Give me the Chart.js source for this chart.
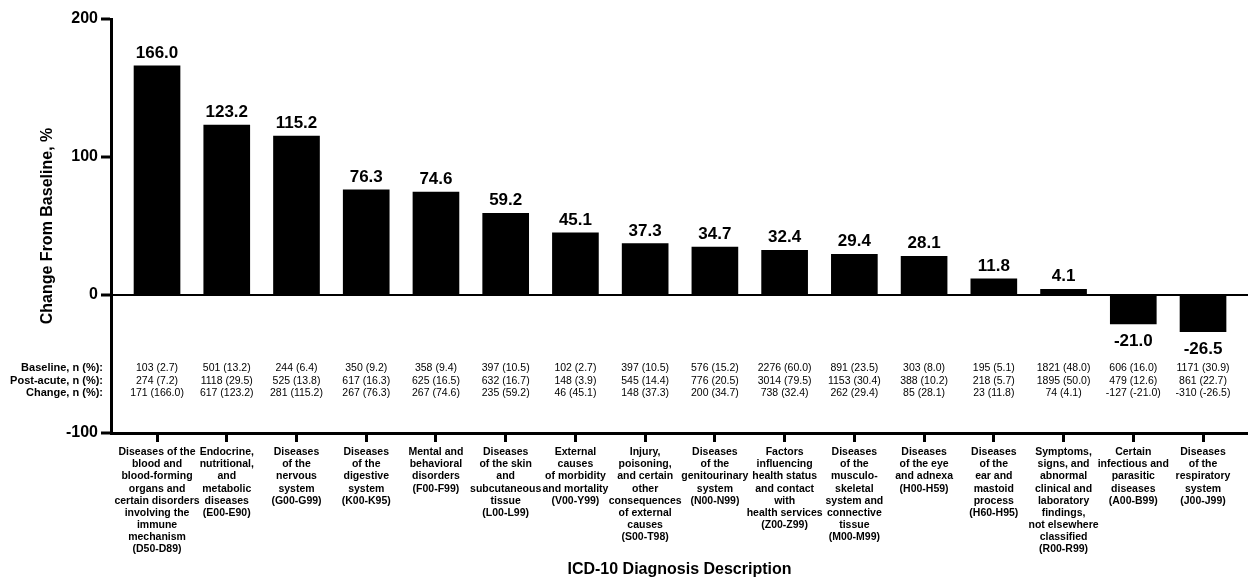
<!DOCTYPE html>
<html lang="en">
<head>
    <meta charset="UTF-8">
    <title>Change From Baseline by ICD-10 Diagnosis</title>
    <script src="https://cdn.jsdelivr.net/npm/chart.js"></script>
    <style>
        body {
            margin: 0;
            background: #fff;
        }
        .chart-container {
            width: 1248px;
            height: 580px;
        }
    </style>
</head>
<body>

    <div class="chart-container">
        <canvas id="icdChart"></canvas>
    </div>

    <script>
        const categories = [
            ["Diseases of the", "blood and", "blood-forming", "organs and", "certain disorders", "involving the", "immune", "mechanism", "(D50-D89)"],
            ["Endocrine,", "nutritional,", "and", "metabolic", "diseases", "(E00-E90)"],
            ["Diseases", "of the", "nervous", "system", "(G00-G99)"],
            ["Diseases", "of the", "digestive", "system", "(K00-K95)"],
            ["Mental and", "behavioral", "disorders", "(F00-F99)"],
            ["Diseases", "of the skin", "and", "subcutaneous", "tissue", "(L00-L99)"],
            ["External", "causes", "of morbidity", "and mortality", "(V00-Y99)"],
            ["Injury,", "poisoning,", "and certain", "other", "consequences", "of external", "causes", "(S00-T98)"],
            ["Diseases", "of the", "genitourinary", "system", "(N00-N99)"],
            ["Factors", "influencing", "health status", "and contact", "with", "health services", "(Z00-Z99)"],
            ["Diseases", "of the", "musculo-", "skeletal", "system and", "connective", "tissue", "(M00-M99)"],
            ["Diseases", "of the eye", "and adnexa", "(H00-H59)"],
            ["Diseases", "of the", "ear and", "mastoid", "process", "(H60-H95)"],
            ["Symptoms,", "signs, and", "abnormal", "clinical and", "laboratory", "findings,", "not elsewhere", "classified", "(R00-R99)"],
            ["Certain", "infectious and", "parasitic", "diseases", "(A00-B99)"],
            ["Diseases", "of the", "respiratory", "system", "(J00-J99)"]
        ];

        const changePct = [166.0, 123.2, 115.2, 76.3, 74.6, 59.2, 45.1, 37.3, 34.7, 32.4, 29.4, 28.1, 11.8, 4.1, -21.0, -26.5];

        const baselineN   = [103, 501, 244, 350, 358, 397, 102, 397, 576, 2276, 891, 303, 195, 1821, 606, 1171];
        const baselinePct = [2.7, 13.2, 6.4, 9.2, 9.4, 10.5, 2.7, 10.5, 15.2, 60.0, 23.5, 8.0, 5.1, 48.0, 16.0, 30.9];
        const postN       = [274, 1118, 525, 617, 625, 632, 148, 545, 776, 3014, 1153, 388, 218, 1895, 479, 861];
        const postPct     = [7.2, 29.5, 13.8, 16.3, 16.5, 16.7, 3.9, 14.4, 20.5, 79.5, 30.4, 10.2, 5.7, 50.0, 12.6, 22.7];
        const changeN     = [171, 617, 281, 267, 267, 235, 46, 148, 200, 738, 262, 85, 23, 74, -127, -310];

        const rowLabels = ["Baseline, n (%):", "Post-acute, n (%):", "Change, n (%):"];
        const yTicks = [-100, 0, 100, 200];

        const FONT = "'Liberation Sans', Arial, Helvetica, sans-serif";

        function fmt(n, p) {
            return n + ' (' + p.toFixed(1) + ')';
        }

        // value labels above / below each bar
        const valueLabels = {
            id: 'valueLabels',
            afterDatasetsDraw(chart) {
                const ctx = chart.ctx;
                const meta = chart.getDatasetMeta(0);
                ctx.save();
                ctx.font = 'bold 17px ' + FONT;
                ctx.fillStyle = '#000';
                ctx.textAlign = 'center';
                ctx.textBaseline = 'alphabetic';
                meta.data.forEach((bar, i) => {
                    const v = changePct[i];
                    const y = v >= 0 ? bar.y - 8 : bar.y + 22;
                    ctx.fillText(v.toFixed(1), bar.x, y);
                });
                ctx.restore();
            }
        };

        // the n (%) table under the zero line
        const countTable = {
            id: 'countTable',
            afterDraw(chart) {
                const ctx = chart.ctx;
                const area = chart.chartArea;
                const meta = chart.getDatasetMeta(0);
                const rowY = [area.bottom - 65, area.bottom - 52, area.bottom - 40];
                const rows = [
                    baselineN.map((n, i) => fmt(n, baselinePct[i])),
                    postN.map((n, i) => fmt(n, postPct[i])),
                    changeN.map((n, i) => fmt(n, changePct[i]))
                ];
                ctx.save();
                ctx.fillStyle = '#000';
                ctx.textBaseline = 'middle';
                ctx.font = 'bold 11px ' + FONT;
                ctx.textAlign = 'right';
                rowLabels.forEach((t, r) => ctx.fillText(t, area.left - 8, rowY[r]));
                ctx.font = '10.5px ' + FONT;
                ctx.textAlign = 'center';
                rows.forEach((row, r) => {
                    row.forEach((t, i) => ctx.fillText(t, meta.data[i].x, rowY[r]));
                });
                ctx.restore();
            }
        };

        const ctx1 = document.getElementById('icdChart').getContext('2d');
        const icdChart = new Chart(ctx1, {
            type: 'bar',
            data: {
                datasets: [
                    {
                        label: 'Change From Baseline, %',
                        data: changePct.map((v, i) => ({ x: i, y: v })),
                        backgroundColor: '#000',
                        borderWidth: 0,
                        barThickness: 46
                    }
                ]
            },
            options: {
                responsive: true,
                maintainAspectRatio: false,
                animation: false,
                layout: { padding: { top: 19, left: 0, right: 0, bottom: 0 } },
                plugins: {
                    legend: { display: false },
                    tooltip: { enabled: false }
                },
                scales: {
                    x: {
                        type: 'linear',
                        offset: false,
                        min: -0.66,
                        max: 15.645,
                        afterFit(scale) { scale.height = 147; },
                        border: { display: true, color: '#000', width: 3 },
                        grid: {
                            offset: false,
                            drawOnChartArea: false,
                            drawTicks: true,
                            tickLength: 9,
                            tickColor: '#000',
                            tickWidth: 3
                        },
                        ticks: {
                            stepSize: 1,
                            includeBounds: false,
                            autoSkip: false,
                            maxRotation: 0,
                            minRotation: 0,
                            padding: 4,
                            color: '#000',
                            font: { family: FONT, size: 10.5, weight: 'bold', lineHeight: 1.16 },
                            callback: (v) => categories[v] || ''
                        },
                        title: {
                            display: true,
                            text: 'ICD-10 Diagnosis Description',
                            color: '#000',
                            font: { family: FONT, size: 16, weight: 'bold' },
                            padding: { top: 0, bottom: 1 }
                        }
                    },
                    y: {
                        min: -100,
                        max: 200,
                        afterFit(scale) { scale.width = 111; },
                        afterBuildTicks(scale) { scale.ticks = yTicks.map(v => ({ value: v })); },
                        border: { display: true, color: '#000', width: 3 },
                        grid: {
                            color: (c) => c.tick && c.tick.value === 0 ? '#000' : 'rgba(0,0,0,0)',
                            lineWidth: (c) => c.tick && c.tick.value === 0 ? 2 : 0,
                            tickLength: 10,
                            tickColor: '#000',
                            tickWidth: 3
                        },
                        ticks: {
                            padding: 3,
                            color: '#000',
                            font: { family: FONT, size: 16, weight: 'bold' }
                        },
                        title: {
                            display: true,
                            text: 'Change From Baseline, %',
                            color: '#000',
                            font: { family: FONT, size: 16, weight: 'bold' },
                            padding: { top: 38, bottom: 0 }
                        }
                    }
                }
            },
            plugins: [valueLabels, countTable]
        });
    </script>

</body>
</html>
